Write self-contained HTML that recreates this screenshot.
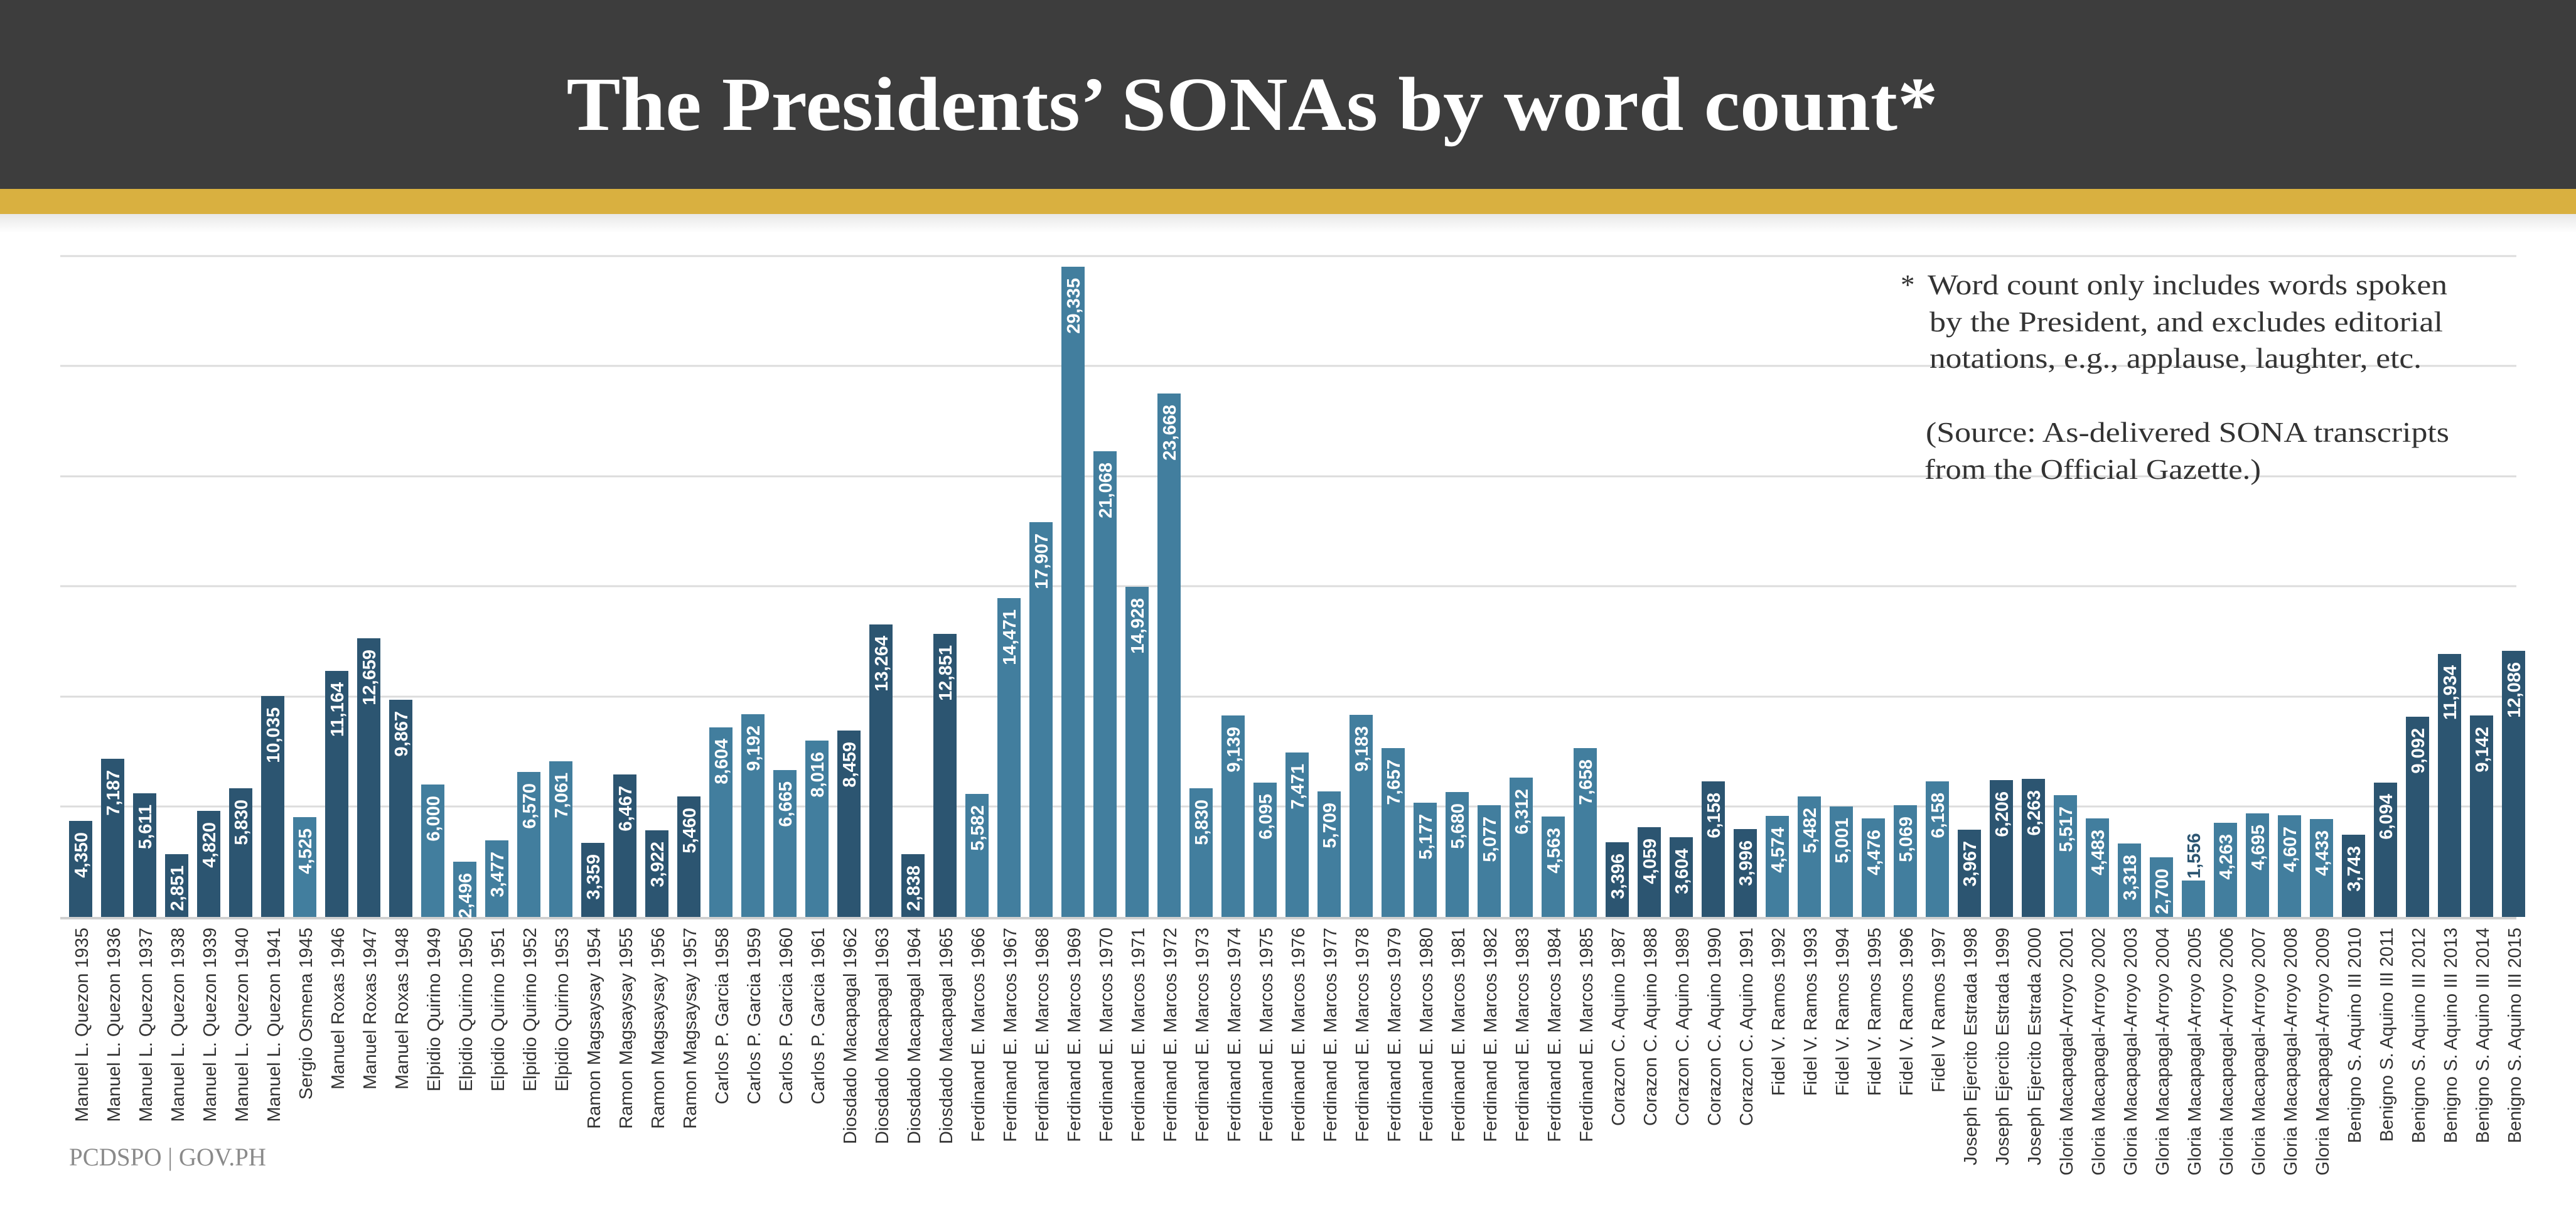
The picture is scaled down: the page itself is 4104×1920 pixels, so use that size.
<!DOCTYPE html>
<html><head><meta charset="utf-8"><style>
html,body{margin:0;padding:0;background:#fff}
svg{display:block}
.d rect{fill:#2c5571}.l rect{fill:#427e9e}
.v{font-family:"Liberation Sans Narrow","Liberation Sans",sans-serif;font-stretch:condensed;font-weight:bold;font-size:29px;fill:#fff;text-anchor:end}
.c{font-family:"Liberation Sans Narrow","Liberation Sans",sans-serif;font-stretch:condensed;font-size:29px;fill:#333;text-anchor:end}
.n{font-family:"Liberation Serif",serif;font-size:45px;fill:#333}
</style></head><body>
<svg width="4104" height="1920" viewBox="0 0 4104 1920" xmlns="http://www.w3.org/2000/svg">
<defs><linearGradient id="sh" x1="0" y1="0" x2="0" y2="1"><stop offset="0" stop-color="#e8e8e8"/><stop offset="1" stop-color="#fff"/></linearGradient></defs>
<rect x="0" y="0" width="4104" height="301" fill="#3d3d3d"/>
<rect x="0" y="301" width="4104" height="40" fill="#d9b040"/>
<rect x="0" y="341" width="4104" height="30" fill="url(#sh)"/>
<text x="1995" y="207" text-anchor="middle" font-family="Liberation Serif,serif" font-weight="bold" font-size="122" fill="#fff" textLength="2185" lengthAdjust="spacingAndGlyphs">The Presidents’ SONAs by word count*</text>
<g stroke="#dcdcdc" stroke-width="3">
<line x1="96" y1="408" x2="4009" y2="408"/><line x1="96" y1="583" x2="4009" y2="583"/><line x1="96" y1="759" x2="4009" y2="759"/><line x1="96" y1="934" x2="4009" y2="934"/><line x1="96" y1="1110" x2="4009" y2="1110"/><line x1="96" y1="1285" x2="4009" y2="1285"/>
</g>
<line x1="96" y1="1463" x2="4009" y2="1463" stroke="#cfcfcf" stroke-width="4"/>
<text class="n" x="3028" y="469">*</text>
<text class="n" x="3071" y="469" textLength="828" lengthAdjust="spacingAndGlyphs">Word count only includes words spoken</text>
<text class="n" x="3074" y="528" textLength="818" lengthAdjust="spacingAndGlyphs">by the President, and excludes editorial</text>
<text class="n" x="3074" y="586" textLength="784" lengthAdjust="spacingAndGlyphs">notations, e.g., applause, laughter, etc.</text>
<text class="n" x="3068" y="704" textLength="834" lengthAdjust="spacingAndGlyphs">(Source: As-delivered SONA transcripts</text>
<text class="n" x="3066" y="763" textLength="536" lengthAdjust="spacingAndGlyphs">from the Official Gazette.)</text>
<text x="110" y="1857" font-family="Liberation Serif,serif" font-size="40" fill="#8a8a8a" textLength="314" lengthAdjust="spacingAndGlyphs">PCDSPO | GOV.PH</text>

<g class="d" transform="translate(110,0)"><rect y="1308" width="37" height="153"/><text class="v" transform="translate(29,1308) rotate(-90)" x="-18">4,350</text><text class="c" transform="translate(30,1478) rotate(-90)">Manuel L. Quezon 1935</text></g>
<g class="d" transform="translate(161,0)"><rect y="1209" width="37" height="252"/><text class="v" transform="translate(29,1209) rotate(-90)" x="-18">7,187</text><text class="c" transform="translate(30,1478) rotate(-90)">Manuel L. Quezon 1936</text></g>
<g class="d" transform="translate(212,0)"><rect y="1264" width="37" height="197"/><text class="v" transform="translate(29,1264) rotate(-90)" x="-18">5,611</text><text class="c" transform="translate(30,1478) rotate(-90)">Manuel L. Quezon 1937</text></g>
<g class="d" transform="translate(263,0)"><rect y="1361" width="37" height="100"/><text class="v" transform="translate(29,1361) rotate(-90)" x="-18">2,851</text><text class="c" transform="translate(30,1478) rotate(-90)">Manuel L. Quezon 1938</text></g>
<g class="d" transform="translate(314,0)"><rect y="1292" width="37" height="169"/><text class="v" transform="translate(29,1292) rotate(-90)" x="-18">4,820</text><text class="c" transform="translate(30,1478) rotate(-90)">Manuel L. Quezon 1939</text></g>
<g class="d" transform="translate(365,0)"><rect y="1256" width="37" height="205"/><text class="v" transform="translate(29,1256) rotate(-90)" x="-18">5,830</text><text class="c" transform="translate(30,1478) rotate(-90)">Manuel L. Quezon 1940</text></g>
<g class="d" transform="translate(416,0)"><rect y="1109" width="37" height="352"/><text class="v" transform="translate(29,1109) rotate(-90)" x="-18">10,035</text><text class="c" transform="translate(30,1478) rotate(-90)">Manuel L. Quezon 1941</text></g>
<g class="l" transform="translate(467,0)"><rect y="1302" width="37" height="159"/><text class="v" transform="translate(29,1302) rotate(-90)" x="-18">4,525</text><text class="c" transform="translate(30,1478) rotate(-90)">Sergio Osmena 1945</text></g>
<g class="d" transform="translate(518,0)"><rect y="1069" width="37" height="392"/><text class="v" transform="translate(29,1069) rotate(-90)" x="-18">11,164</text><text class="c" transform="translate(30,1478) rotate(-90)">Manuel Roxas 1946</text></g>
<g class="d" transform="translate(569,0)"><rect y="1017" width="37" height="444"/><text class="v" transform="translate(29,1017) rotate(-90)" x="-18">12,659</text><text class="c" transform="translate(30,1478) rotate(-90)">Manuel Roxas 1947</text></g>
<g class="d" transform="translate(620,0)"><rect y="1115" width="37" height="346"/><text class="v" transform="translate(29,1115) rotate(-90)" x="-18">9,867</text><text class="c" transform="translate(30,1478) rotate(-90)">Manuel Roxas 1948</text></g>
<g class="l" transform="translate(671,0)"><rect y="1250" width="37" height="211"/><text class="v" transform="translate(29,1250) rotate(-90)" x="-18">6,000</text><text class="c" transform="translate(30,1478) rotate(-90)">Elpidio Quirino 1949</text></g>
<g class="l" transform="translate(722,0)"><rect y="1373" width="37" height="88"/><text class="v" transform="translate(29,1373) rotate(-90)" x="-18">2,496</text><text class="c" transform="translate(30,1478) rotate(-90)">Elpidio Quirino 1950</text></g>
<g class="l" transform="translate(773,0)"><rect y="1339" width="37" height="122"/><text class="v" transform="translate(29,1339) rotate(-90)" x="-18">3,477</text><text class="c" transform="translate(30,1478) rotate(-90)">Elpidio Quirino 1951</text></g>
<g class="l" transform="translate(824,0)"><rect y="1230" width="37" height="231"/><text class="v" transform="translate(29,1230) rotate(-90)" x="-18">6,570</text><text class="c" transform="translate(30,1478) rotate(-90)">Elpidio Quirino 1952</text></g>
<g class="l" transform="translate(875,0)"><rect y="1213" width="37" height="248"/><text class="v" transform="translate(29,1213) rotate(-90)" x="-18">7,061</text><text class="c" transform="translate(30,1478) rotate(-90)">Elpidio Quirino 1953</text></g>
<g class="d" transform="translate(926,0)"><rect y="1343" width="37" height="118"/><text class="v" transform="translate(29,1343) rotate(-90)" x="-18">3,359</text><text class="c" transform="translate(30,1478) rotate(-90)">Ramon Magsaysay 1954</text></g>
<g class="d" transform="translate(977,0)"><rect y="1234" width="37" height="227"/><text class="v" transform="translate(29,1234) rotate(-90)" x="-18">6,467</text><text class="c" transform="translate(30,1478) rotate(-90)">Ramon Magsaysay 1955</text></g>
<g class="d" transform="translate(1028,0)"><rect y="1323" width="37" height="138"/><text class="v" transform="translate(29,1323) rotate(-90)" x="-18">3,922</text><text class="c" transform="translate(30,1478) rotate(-90)">Ramon Magsaysay 1956</text></g>
<g class="d" transform="translate(1079,0)"><rect y="1269" width="37" height="192"/><text class="v" transform="translate(29,1269) rotate(-90)" x="-18">5,460</text><text class="c" transform="translate(30,1478) rotate(-90)">Ramon Magsaysay 1957</text></g>
<g class="l" transform="translate(1130,0)"><rect y="1159" width="37" height="302"/><text class="v" transform="translate(29,1159) rotate(-90)" x="-18">8,604</text><text class="c" transform="translate(30,1478) rotate(-90)">Carlos P. Garcia 1958</text></g>
<g class="l" transform="translate(1181,0)"><rect y="1138" width="37" height="323"/><text class="v" transform="translate(29,1138) rotate(-90)" x="-18">9,192</text><text class="c" transform="translate(30,1478) rotate(-90)">Carlos P. Garcia 1959</text></g>
<g class="l" transform="translate(1232,0)"><rect y="1227" width="37" height="234"/><text class="v" transform="translate(29,1227) rotate(-90)" x="-18">6,665</text><text class="c" transform="translate(30,1478) rotate(-90)">Carlos P. Garcia 1960</text></g>
<g class="l" transform="translate(1283,0)"><rect y="1180" width="37" height="281"/><text class="v" transform="translate(29,1180) rotate(-90)" x="-18">8,016</text><text class="c" transform="translate(30,1478) rotate(-90)">Carlos P. Garcia 1961</text></g>
<g class="d" transform="translate(1334,0)"><rect y="1164" width="37" height="297"/><text class="v" transform="translate(29,1164) rotate(-90)" x="-18">8,459</text><text class="c" transform="translate(30,1478) rotate(-90)">Diosdado Macapagal 1962</text></g>
<g class="d" transform="translate(1385,0)"><rect y="995" width="37" height="466"/><text class="v" transform="translate(29,995) rotate(-90)" x="-18">13,264</text><text class="c" transform="translate(30,1478) rotate(-90)">Diosdado Macapagal 1963</text></g>
<g class="d" transform="translate(1436,0)"><rect y="1361" width="37" height="100"/><text class="v" transform="translate(29,1361) rotate(-90)" x="-18">2,838</text><text class="c" transform="translate(30,1478) rotate(-90)">Diosdado Macapagal 1964</text></g>
<g class="d" transform="translate(1487,0)"><rect y="1010" width="37" height="451"/><text class="v" transform="translate(29,1010) rotate(-90)" x="-18">12,851</text><text class="c" transform="translate(30,1478) rotate(-90)">Diosdado Macapagal 1965</text></g>
<g class="l" transform="translate(1538,0)"><rect y="1265" width="37" height="196"/><text class="v" transform="translate(29,1265) rotate(-90)" x="-18">5,582</text><text class="c" transform="translate(30,1478) rotate(-90)">Ferdinand E. Marcos 1966</text></g>
<g class="l" transform="translate(1589,0)"><rect y="953" width="37" height="508"/><text class="v" transform="translate(29,953) rotate(-90)" x="-18">14,471</text><text class="c" transform="translate(30,1478) rotate(-90)">Ferdinand E. Marcos 1967</text></g>
<g class="l" transform="translate(1640,0)"><rect y="832" width="37" height="629"/><text class="v" transform="translate(29,832) rotate(-90)" x="-18">17,907</text><text class="c" transform="translate(30,1478) rotate(-90)">Ferdinand E. Marcos 1968</text></g>
<g class="l" transform="translate(1691,0)"><rect y="425" width="37" height="1036"/><text class="v" transform="translate(29,425) rotate(-90)" x="-18">29,335</text><text class="c" transform="translate(30,1478) rotate(-90)">Ferdinand E. Marcos 1969</text></g>
<g class="l" transform="translate(1742,0)"><rect y="719" width="37" height="742"/><text class="v" transform="translate(29,719) rotate(-90)" x="-18">21,068</text><text class="c" transform="translate(30,1478) rotate(-90)">Ferdinand E. Marcos 1970</text></g>
<g class="l" transform="translate(1793,0)"><rect y="935" width="37" height="526"/><text class="v" transform="translate(29,935) rotate(-90)" x="-18">14,928</text><text class="c" transform="translate(30,1478) rotate(-90)">Ferdinand E. Marcos 1971</text></g>
<g class="l" transform="translate(1844,0)"><rect y="627" width="37" height="834"/><text class="v" transform="translate(29,627) rotate(-90)" x="-18">23,668</text><text class="c" transform="translate(30,1478) rotate(-90)">Ferdinand E. Marcos 1972</text></g>
<g class="l" transform="translate(1895,0)"><rect y="1256" width="37" height="205"/><text class="v" transform="translate(29,1256) rotate(-90)" x="-18">5,830</text><text class="c" transform="translate(30,1478) rotate(-90)">Ferdinand E. Marcos 1973</text></g>
<g class="l" transform="translate(1946,0)"><rect y="1140" width="37" height="321"/><text class="v" transform="translate(29,1140) rotate(-90)" x="-18">9,139</text><text class="c" transform="translate(30,1478) rotate(-90)">Ferdinand E. Marcos 1974</text></g>
<g class="l" transform="translate(1997,0)"><rect y="1247" width="37" height="214"/><text class="v" transform="translate(29,1247) rotate(-90)" x="-18">6,095</text><text class="c" transform="translate(30,1478) rotate(-90)">Ferdinand E. Marcos 1975</text></g>
<g class="l" transform="translate(2048,0)"><rect y="1199" width="37" height="262"/><text class="v" transform="translate(29,1199) rotate(-90)" x="-18">7,471</text><text class="c" transform="translate(30,1478) rotate(-90)">Ferdinand E. Marcos 1976</text></g>
<g class="l" transform="translate(2099,0)"><rect y="1261" width="37" height="200"/><text class="v" transform="translate(29,1261) rotate(-90)" x="-18">5,709</text><text class="c" transform="translate(30,1478) rotate(-90)">Ferdinand E. Marcos 1977</text></g>
<g class="l" transform="translate(2150,0)"><rect y="1139" width="37" height="322"/><text class="v" transform="translate(29,1139) rotate(-90)" x="-18">9,183</text><text class="c" transform="translate(30,1478) rotate(-90)">Ferdinand E. Marcos 1978</text></g>
<g class="l" transform="translate(2201,0)"><rect y="1192" width="37" height="269"/><text class="v" transform="translate(29,1192) rotate(-90)" x="-18">7,657</text><text class="c" transform="translate(30,1478) rotate(-90)">Ferdinand E. Marcos 1979</text></g>
<g class="l" transform="translate(2252,0)"><rect y="1279" width="37" height="182"/><text class="v" transform="translate(29,1279) rotate(-90)" x="-18">5,177</text><text class="c" transform="translate(30,1478) rotate(-90)">Ferdinand E. Marcos 1980</text></g>
<g class="l" transform="translate(2303,0)"><rect y="1262" width="37" height="199"/><text class="v" transform="translate(29,1262) rotate(-90)" x="-18">5,680</text><text class="c" transform="translate(30,1478) rotate(-90)">Ferdinand E. Marcos 1981</text></g>
<g class="l" transform="translate(2354,0)"><rect y="1283" width="37" height="178"/><text class="v" transform="translate(29,1283) rotate(-90)" x="-18">5,077</text><text class="c" transform="translate(30,1478) rotate(-90)">Ferdinand E. Marcos 1982</text></g>
<g class="l" transform="translate(2405,0)"><rect y="1239" width="37" height="222"/><text class="v" transform="translate(29,1239) rotate(-90)" x="-18">6,312</text><text class="c" transform="translate(30,1478) rotate(-90)">Ferdinand E. Marcos 1983</text></g>
<g class="l" transform="translate(2456,0)"><rect y="1301" width="37" height="160"/><text class="v" transform="translate(29,1301) rotate(-90)" x="-18">4,563</text><text class="c" transform="translate(30,1478) rotate(-90)">Ferdinand E. Marcos 1984</text></g>
<g class="l" transform="translate(2507,0)"><rect y="1192" width="37" height="269"/><text class="v" transform="translate(29,1192) rotate(-90)" x="-18">7,658</text><text class="c" transform="translate(30,1478) rotate(-90)">Ferdinand E. Marcos 1985</text></g>
<g class="d" transform="translate(2558,0)"><rect y="1342" width="37" height="119"/><text class="v" transform="translate(29,1342) rotate(-90)" x="-18">3,396</text><text class="c" transform="translate(30,1478) rotate(-90)">Corazon C. Aquino 1987</text></g>
<g class="d" transform="translate(2609,0)"><rect y="1318" width="37" height="143"/><text class="v" transform="translate(29,1318) rotate(-90)" x="-18">4,059</text><text class="c" transform="translate(30,1478) rotate(-90)">Corazon C. Aquino 1988</text></g>
<g class="d" transform="translate(2660,0)"><rect y="1334" width="37" height="127"/><text class="v" transform="translate(29,1334) rotate(-90)" x="-18">3,604</text><text class="c" transform="translate(30,1478) rotate(-90)">Corazon C. Aquino 1989</text></g>
<g class="d" transform="translate(2711,0)"><rect y="1245" width="37" height="216"/><text class="v" transform="translate(29,1245) rotate(-90)" x="-18">6,158</text><text class="c" transform="translate(30,1478) rotate(-90)">Corazon C. Aquino 1990</text></g>
<g class="d" transform="translate(2762,0)"><rect y="1321" width="37" height="140"/><text class="v" transform="translate(29,1321) rotate(-90)" x="-18">3,996</text><text class="c" transform="translate(30,1478) rotate(-90)">Corazon C. Aquino 1991</text></g>
<g class="l" transform="translate(2813,0)"><rect y="1300" width="37" height="161"/><text class="v" transform="translate(29,1300) rotate(-90)" x="-18">4,574</text><text class="c" transform="translate(30,1478) rotate(-90)">Fidel V. Ramos 1992</text></g>
<g class="l" transform="translate(2864,0)"><rect y="1269" width="37" height="192"/><text class="v" transform="translate(29,1269) rotate(-90)" x="-18">5,482</text><text class="c" transform="translate(30,1478) rotate(-90)">Fidel V. Ramos 1993</text></g>
<g class="l" transform="translate(2915,0)"><rect y="1285" width="37" height="176"/><text class="v" transform="translate(29,1285) rotate(-90)" x="-18">5,001</text><text class="c" transform="translate(30,1478) rotate(-90)">Fidel V. Ramos 1994</text></g>
<g class="l" transform="translate(2966,0)"><rect y="1304" width="37" height="157"/><text class="v" transform="translate(29,1304) rotate(-90)" x="-18">4,476</text><text class="c" transform="translate(30,1478) rotate(-90)">Fidel V. Ramos 1995</text></g>
<g class="l" transform="translate(3017,0)"><rect y="1283" width="37" height="178"/><text class="v" transform="translate(29,1283) rotate(-90)" x="-18">5,069</text><text class="c" transform="translate(30,1478) rotate(-90)">Fidel V. Ramos 1996</text></g>
<g class="l" transform="translate(3068,0)"><rect y="1245" width="37" height="216"/><text class="v" transform="translate(29,1245) rotate(-90)" x="-18">6,158</text><text class="c" transform="translate(30,1478) rotate(-90)">Fidel V Ramos 1997</text></g>
<g class="d" transform="translate(3119,0)"><rect y="1322" width="37" height="139"/><text class="v" transform="translate(29,1322) rotate(-90)" x="-18">3,967</text><text class="c" transform="translate(30,1478) rotate(-90)">Joseph Ejercito Estrada 1998</text></g>
<g class="d" transform="translate(3170,0)"><rect y="1243" width="37" height="218"/><text class="v" transform="translate(29,1243) rotate(-90)" x="-18">6,206</text><text class="c" transform="translate(30,1478) rotate(-90)">Joseph Ejercito Estrada 1999</text></g>
<g class="d" transform="translate(3221,0)"><rect y="1241" width="37" height="220"/><text class="v" transform="translate(29,1241) rotate(-90)" x="-18">6,263</text><text class="c" transform="translate(30,1478) rotate(-90)">Joseph Ejercito Estrada 2000</text></g>
<g class="l" transform="translate(3272,0)"><rect y="1267" width="37" height="194"/><text class="v" transform="translate(29,1267) rotate(-90)" x="-18">5,517</text><text class="c" transform="translate(30,1478) rotate(-90)">Gloria Macapagal-Arroyo 2001</text></g>
<g class="l" transform="translate(3323,0)"><rect y="1304" width="37" height="157"/><text class="v" transform="translate(29,1304) rotate(-90)" x="-18">4,483</text><text class="c" transform="translate(30,1478) rotate(-90)">Gloria Macapagal-Arroyo 2002</text></g>
<g class="l" transform="translate(3374,0)"><rect y="1344" width="37" height="117"/><text class="v" transform="translate(29,1344) rotate(-90)" x="-18">3,318</text><text class="c" transform="translate(30,1478) rotate(-90)">Gloria Macapagal-Arroyo 2003</text></g>
<g class="l" transform="translate(3425,0)"><rect y="1366" width="37" height="95"/><text class="v" transform="translate(29,1366) rotate(-90)" x="-18">2,700</text><text class="c" transform="translate(30,1478) rotate(-90)">Gloria Macapagal-Arroyo 2004</text></g>
<g class="l" transform="translate(3476,0)"><rect y="1403" width="37" height="58"/><text class="v" transform="translate(29,1403) rotate(-90)" x="3" style="text-anchor:start;fill:#2c5571">1,556</text><text class="c" transform="translate(30,1478) rotate(-90)">Gloria Macapagal-Arroyo 2005</text></g>
<g class="l" transform="translate(3527,0)"><rect y="1311" width="37" height="150"/><text class="v" transform="translate(29,1311) rotate(-90)" x="-18">4,263</text><text class="c" transform="translate(30,1478) rotate(-90)">Gloria Macapagal-Arroyo 2006</text></g>
<g class="l" transform="translate(3578,0)"><rect y="1296" width="37" height="165"/><text class="v" transform="translate(29,1296) rotate(-90)" x="-18">4,695</text><text class="c" transform="translate(30,1478) rotate(-90)">Gloria Macapagal-Arroyo 2007</text></g>
<g class="l" transform="translate(3629,0)"><rect y="1299" width="37" height="162"/><text class="v" transform="translate(29,1299) rotate(-90)" x="-18">4,607</text><text class="c" transform="translate(30,1478) rotate(-90)">Gloria Macapagal-Arroyo 2008</text></g>
<g class="l" transform="translate(3680,0)"><rect y="1305" width="37" height="156"/><text class="v" transform="translate(29,1305) rotate(-90)" x="-18">4,433</text><text class="c" transform="translate(30,1478) rotate(-90)">Gloria Macapagal-Arroyo 2009</text></g>
<g class="d" transform="translate(3731,0)"><rect y="1330" width="37" height="131"/><text class="v" transform="translate(29,1330) rotate(-90)" x="-18">3,743</text><text class="c" transform="translate(30,1478) rotate(-90)">Benigno S. Aquino III 2010</text></g>
<g class="d" transform="translate(3782,0)"><rect y="1247" width="37" height="214"/><text class="v" transform="translate(29,1247) rotate(-90)" x="-18">6,094</text><text class="c" transform="translate(30,1478) rotate(-90)">Benigno S. Aquino III 2011</text></g>
<g class="d" transform="translate(3833,0)"><rect y="1142" width="37" height="319"/><text class="v" transform="translate(29,1142) rotate(-90)" x="-18">9,092</text><text class="c" transform="translate(30,1478) rotate(-90)">Benigno S. Aquino III 2012</text></g>
<g class="d" transform="translate(3884,0)"><rect y="1042" width="37" height="419"/><text class="v" transform="translate(29,1042) rotate(-90)" x="-18">11,934</text><text class="c" transform="translate(30,1478) rotate(-90)">Benigno S. Aquino III 2013</text></g>
<g class="d" transform="translate(3935,0)"><rect y="1140" width="37" height="321"/><text class="v" transform="translate(29,1140) rotate(-90)" x="-18">9,142</text><text class="c" transform="translate(30,1478) rotate(-90)">Benigno S. Aquino III 2014</text></g>
<g class="d" transform="translate(3986,0)"><rect y="1037" width="37" height="424"/><text class="v" transform="translate(29,1037) rotate(-90)" x="-18">12,086</text><text class="c" transform="translate(30,1478) rotate(-90)">Benigno S. Aquino III 2015</text></g>
</svg>
</body></html>
